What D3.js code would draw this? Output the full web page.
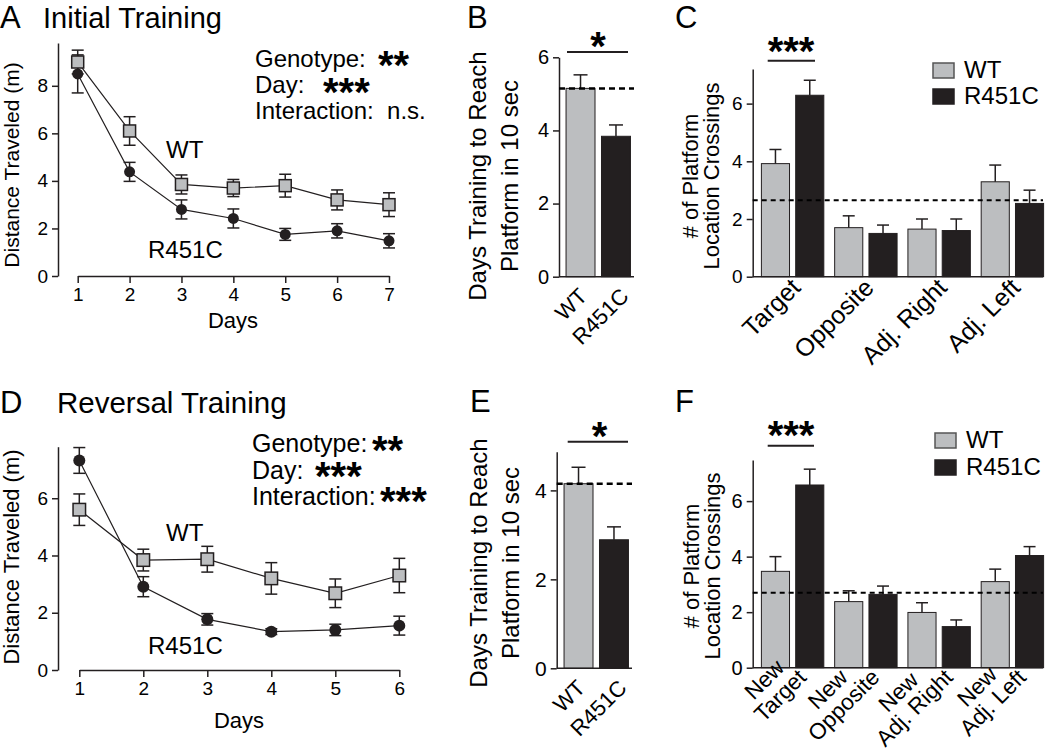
<!DOCTYPE html>
<html>
<head>
<meta charset="utf-8">
<script src="https://cdn.jsdelivr.net/npm/d3@7"></script>
<style>
  body { margin: 0; background: #fff; }
  svg { font-family: "Liberation Sans", Arial, sans-serif; }
  text { white-space: pre; }
</style>
</head>
<body>
<svg id="fig" width="1050" height="750"></svg>
<script>
// --- data: initial training (A) ---
const daysA = [1, 2, 3, 4, 5, 6, 7];
const wtA = [9.0, 6.1, 3.85, 3.7, 3.8, 3.2, 3.0];
const wtAErr = [0.5, 0.6, 0.4, 0.36, 0.48, 0.42, 0.5];
const mutA = [8.5, 4.38, 2.8, 2.42, 1.75, 1.9, 1.48];
const mutAErr = [0.8, 0.4, 0.4, 0.4, 0.25, 0.3, 0.3];
const yTicksA = [0, 2, 4, 6, 8];

// --- data: reversal training (D) ---
const daysD = [1, 2, 3, 4, 5, 6];
const wtD = [5.6, 3.84, 3.87, 3.2, 2.68, 3.3];
const wtDErr = [0.55, 0.38, 0.45, 0.55, 0.5, 0.6];
const mutD = [7.32, 2.91, 1.77, 1.34, 1.4, 1.55];
const mutDErr = [0.45, 0.35, 0.2, 0.1, 0.2, 0.33];
const yTicksD = [0, 2, 4, 6];

// --- data: days to criterion (B, E) ---
const genotypes = ["WT", "R451C"];
const trainB = [5.15, 3.84];
const trainBErr = [0.37, 0.31];
const chanceB = 5.15;
const yTicksB = [0, 2, 4, 6];
const trainE = [4.15, 2.89];
const trainEErr = [0.37, 0.29];
const chanceE = 4.15;
const yTicksE = [0, 2, 4];

// --- data: probe trial crossings (C, F) ---
const quadC = ["Target", "Opposite", "Adj. Right", "Adj. Left"];
const wtC = [3.92, 1.70, 1.65, 3.29];
const wtCErr = [0.49, 0.41, 0.35, 0.58];
const mutC = [6.29, 1.50, 1.60, 2.54];
const mutCErr = [0.52, 0.29, 0.40, 0.46];
const chanceC = 2.65;
const quadF = ["New Target", "New Opposite", "New Adj. Right", "New Adj. Left"];
const wtF = [3.47, 2.38, 1.99, 3.10];
const wtFErr = [0.53, 0.39, 0.35, 0.45];
const mutF = [6.58, 2.64, 1.48, 4.04];
const mutFErr = [0.57, 0.30, 0.24, 0.32];
const chanceF = 2.70;
const yTicksCF = [0, 2, 4, 6];

const INK = "#231f20";
const GRAY = "#bcbec0";
const svg = d3.select("#fig");

// 軸のスタイルを揃える
function styleAxis(ax, fs) {
    ax.attr("font-family", null).attr("font-size", fs);
    ax.select(".domain").attr("stroke", INK).attr("stroke-width", 1.5);
    ax.selectAll(".tick line").attr("stroke", INK).attr("stroke-width", 1.5);
    ax.selectAll(".tick text").attr("fill", "#000");
}

function drawYAxis(x0, y, ticks, fs) {
    const ax = svg.append("g")
        .attr("transform", `translate(${x0},0)`)
        .call(d3.axisLeft(y).tickValues(ticks).tickFormat(d3.format("d"))
            .tickSize(6).tickSizeOuter(0).tickPadding(4));
    styleAxis(ax, fs);
}

function label(x, y, txt, fs, anchor = "start") {
    return svg.append("text").attr("x", x).attr("y", y)
        .attr("font-size", fs).attr("text-anchor", anchor).text(txt);
}

function rotLabel(x, y, lines, fs, gap) {
    const t = svg.append("text")
        .attr("transform", `translate(${x},${y}) rotate(-90)`)
        .attr("font-size", fs).attr("text-anchor", "middle");
    lines.forEach((s, i) => t.append("tspan").attr("x", 0).attr("y", i * gap).text(s));
}

// 星印（中心 y を指定）
function stars(x, cy, n, fs = 40, anchor = "start") {
    svg.append("text").attr("x", x).attr("y", cy + 0.44 * fs)
        .attr("font-size", fs).attr("font-weight", "bold")
        .attr("text-anchor", anchor).text("*".repeat(n));
}

/**
 * 折れ線パネル（A, D）
 */
function drawLinePanel(p) {
    const { days, wt, wtErr, mut, mutErr, x, y, yTicks, axisX, axisY, fs, r, sq } = p;
    drawYAxis(axisX, y, yTicks, fs);
    const xa = svg.append("g")
        .attr("transform", `translate(0,${axisY})`)
        .call(d3.axisBottom(x).tickValues(days).tickFormat(d3.format("d"))
            .tickSize(7).tickSizeOuter(0).tickPadding(5));
    styleAxis(xa, fs);

    const series = [
        { v: wt, e: wtErr },
        { v: mut, e: mutErr },
    ];
    const line = d3.line().x((d, i) => x(days[i])).y((d) => y(d));
    series.forEach((s) => {
        svg.append("path").attr("d", line(s.v))
            .attr("fill", "none").attr("stroke", INK).attr("stroke-width", 1.2);
    });
    series.forEach((s) => {
        const eg = svg.append("g").attr("stroke", INK).attr("stroke-width", 1.5);
        s.v.forEach((v, i) => {
            const cx = x(days[i]);
            eg.append("line").attr("x1", cx).attr("x2", cx)
                .attr("y1", y(v - s.e[i])).attr("y2", y(v + s.e[i]));
            [v - s.e[i], v + s.e[i]].forEach((w) =>
                eg.append("line").attr("x1", cx - 6).attr("x2", cx + 6)
                    .attr("y1", y(w)).attr("y2", y(w)));
        });
    });
    // 丸を先に、四角を後に
    svg.append("g").selectAll("circle").data(mut).join("circle")
        .attr("cx", (d, i) => x(days[i])).attr("cy", (d) => y(d))
        .attr("r", r).attr("fill", INK);
    svg.append("g").selectAll("rect").data(wt).join("rect")
        .attr("x", (d, i) => x(days[i]) - sq / 2).attr("y", (d) => y(d) - sq / 2)
        .attr("width", sq).attr("height", sq)
        .attr("fill", GRAY).attr("stroke", INK).attr("stroke-width", 1.5);
}

/**
 * 訓練日数の棒グラフ（B, E）
 */
function drawTrainPanel(p) {
    const { vals, errs, chance, y, yTicks, axisX, x, fs } = p;
    drawYAxis(axisX, y, yTicks, fs);
    const y0 = y(0);
    svg.selectAll(null).data(vals).join("rect")
        .attr("x", (d, i) => x(genotypes[i])).attr("y", (d) => y(d))
        .attr("width", x.bandwidth()).attr("height", (d) => y0 - y(d))
        .attr("fill", (d, i) => (i === 0 ? GRAY : INK))
        .attr("stroke", INK).attr("stroke-width", 1);
    const eg = svg.append("g").attr("stroke", INK).attr("stroke-width", 1.5);
    vals.forEach((v, i) => {
        const cx = x(genotypes[i]) + x.bandwidth() / 2;
        eg.append("line").attr("x1", cx).attr("x2", cx).attr("y1", y(v)).attr("y2", y(v + errs[i]));
        eg.append("line").attr("x1", cx - 7).attr("x2", cx + 7)
            .attr("y1", y(v + errs[i])).attr("y2", y(v + errs[i]));
    });
    const xEnd = x.range()[1];
    svg.append("line").attr("x1", axisX).attr("x2", xEnd).attr("y1", y0).attr("y2", y0)
        .attr("stroke", INK).attr("stroke-width", 1.5);
    svg.append("line").attr("x1", axisX).attr("x2", xEnd)
        .attr("y1", y(chance)).attr("y2", y(chance))
        .attr("stroke", "#000").attr("stroke-width", 2.5).attr("stroke-dasharray", "6,4");
    genotypes.forEach((gname, i) => {
        const cx = x(gname) + x.bandwidth() / 2;
        const dx = i === 0 ? -3 : 3;
        svg.append("text")
            .attr("transform", `translate(${cx + dx},${y0 + 10}) rotate(-45)`)
            .attr("font-size", p.xfs).attr("text-anchor", "end").attr("dy", "0.7em")
            .text(gname);
    });
}

/**
 * プラットフォーム通過回数（C, F）
 */
function drawProbePanel(p) {
    const { cats, wt, wtErr, mut, mutErr, chance, y, axisX, xEnd, fs, xfs } = p;
    drawYAxis(axisX, y, yTicksCF, fs);
    const y0 = y(0);
    const outer = d3.scaleBand().domain(cats).range([757, 1048]).paddingInner(0.148).paddingOuter(0.06);
    const inner = d3.scaleBand().domain(genotypes).range([0, outer.bandwidth()]).paddingInner(0.18);
    const rows = cats.map((c, i) => [
        { c, g: "WT", v: wt[i], e: wtErr[i] },
        { c, g: "R451C", v: mut[i], e: mutErr[i] },
    ]).flat();
    svg.append("g").selectAll("rect").data(rows).join("rect")
        .attr("x", (d) => outer(d.c) + inner(d.g)).attr("y", (d) => y(d.v))
        .attr("width", inner.bandwidth()).attr("height", (d) => y0 - y(d.v))
        .attr("fill", (d) => (d.g === "WT" ? GRAY : INK))
        .attr("stroke", INK).attr("stroke-width", 1);
    const eg = svg.append("g").attr("stroke", INK).attr("stroke-width", 1.5);
    rows.forEach((d) => {
        const cx = outer(d.c) + inner(d.g) + inner.bandwidth() / 2;
        eg.append("line").attr("x1", cx).attr("x2", cx).attr("y1", y(d.v)).attr("y2", y(d.v + d.e));
        eg.append("line").attr("x1", cx - 6).attr("x2", cx + 6)
            .attr("y1", y(d.v + d.e)).attr("y2", y(d.v + d.e));
    });
    svg.append("line").attr("x1", axisX).attr("x2", xEnd).attr("y1", y0).attr("y2", y0)
        .attr("stroke", INK).attr("stroke-width", 1.5);
    svg.append("line").attr("x1", axisX).attr("x2", xEnd)
        .attr("y1", y(chance)).attr("y2", y(chance))
        .attr("stroke", "#000").attr("stroke-width", 2).attr("stroke-dasharray", "5,4");

    // 斜めのカテゴリラベル（複数行は中央揃え）
    cats.forEach((c) => {
        const cx = outer(c) + outer.bandwidth() / 2;
        const g = svg.append("g")
            .attr("transform", `translate(${cx + p.lab[0]},${y0 + p.lab[1]}) rotate(-45)`);
        const lines = p.twoLine ? [c.slice(0, 3), c.slice(4)] : [c];
        const t = g.append("text").attr("font-size", xfs).attr("text-anchor", "middle");
        const sp = lines.map((s, i) => t.append("tspan").attr("y", i * xfs).attr("dy", "0.7em").text(s));
        const w = d3.max(sp, (s) => s.node().getComputedTextLength());
        sp.forEach((s) => s.attr("x", -w / 2));
    });

    // 凡例
    const lg = p.legend;
    genotypes.forEach((gname, i) => {
        svg.append("rect").attr("x", lg.x).attr("y", lg.y[i]).attr("width", 21).attr("height", 15)
            .attr("fill", i === 0 ? GRAY : INK).attr("stroke", i === 0 ? "#555" : INK).attr("stroke-width", 1.5);
        label(lg.x + 31, lg.y[i] + 15, gname, 24);
    });
}

// ---------- A ----------
label(0, 27.5, "A", 31);
label(43, 27.5, "Initial Training", 29);
drawLinePanel({
    days: daysA, wt: wtA, wtErr: wtAErr, mut: mutA, mutErr: mutAErr,
    x: d3.scaleLinear().domain([1, 7]).range([77.7, 389]),
    y: d3.scaleLinear().domain([0, 9.8]).range([276, 43]),
    yTicks: yTicksA, axisX: 58, axisY: 276, fs: 19, r: 5.5, sq: 12,
});
rotLabel(19, 165, ["Distance Traveled (m)"], 21, 0);
label(233, 328, "Days", 22, "middle");
label(166, 158, "WT", 24);
label(148, 258, "R451C", 24);
label(255, 67, "Genotype:", 24);
stars(378, 61, 2);
label(255, 93, "Day:", 24);
stars(323, 88, 3);
label(255, 119, "Interaction:  n.s.", 24);

// ---------- D ----------
label(0, 413, "D", 31);
label(57, 413, "Reversal Training", 29.5);
drawLinePanel({
    days: daysD, wt: wtD, wtErr: wtDErr, mut: mutD, mutErr: mutDErr,
    x: d3.scaleLinear().domain([1, 6]).range([79.3, 399.3]),
    y: d3.scaleLinear().domain([0, 7.8]).range([670, 446.7]),
    yTicks: yTicksD, axisX: 58, axisY: 670, fs: 19, r: 6, sq: 12.5,
});
rotLabel(19, 557, ["Distance Traveled (m)"], 22, 0);
label(239, 728, "Days", 22, "middle");
label(166, 541, "WT", 24);
label(148, 654, "R451C", 24);
label(252, 452, "Genotype:", 25);
stars(372, 446, 2);
label(252, 479, "Day:", 25);
stars(315, 472.5, 3);
label(252, 505, "Interaction:", 25);
stars(380, 497, 3);

// ---------- B ----------
label(467, 27.5, "B", 31);
drawTrainPanel({
    vals: trainB, errs: trainBErr, chance: chanceB,
    y: d3.scaleLinear().domain([0, 6]).range([276.7, 57.3]),
    yTicks: yTicksB, axisX: 559, fs: 20, xfs: 22,
    x: d3.scaleBand().domain(genotypes).range([562.5, 634]).paddingInner(0.183).paddingOuter(0.1),
});
rotLabel(486, 176, ["Days Training to Reach", "Platform in 10 sec"], 24, 32);
svg.append("line").attr("x1", 567).attr("x2", 628).attr("y1", 52).attr("y2", 52)
    .attr("stroke", INK).attr("stroke-width", 2);
stars(598, 42, 1, 40, "middle");

// ---------- E ----------
label(470, 412, "E", 31);
drawTrainPanel({
    vals: trainE, errs: trainEErr, chance: chanceE,
    y: d3.scaleLinear().domain([0, 4.87]).range([668.3, 451.7]),
    yTicks: yTicksE, axisX: 556.7, fs: 21, xfs: 22,
    x: d3.scaleBand().domain(genotypes).range([560.5, 632]).paddingInner(0.183).paddingOuter(0.1),
});
rotLabel(487, 563, ["Days Training to Reach", "Platform in 10 sec"], 24, 32);
svg.append("line").attr("x1", 567.7).attr("x2", 628).attr("y1", 441.7).attr("y2", 441.7)
    .attr("stroke", INK).attr("stroke-width", 2);
stars(599.5, 432.5, 1, 40, "middle");

// ---------- C ----------
label(675, 27.5, "C", 31);
drawProbePanel({
    cats: quadC, wt: wtC, wtErr: wtCErr, mut: mutC, mutErr: mutCErr, chance: chanceC,
    y: d3.scaleLinear().domain([0, 7.2]).range([276.7, 69]),
    axisX: 752.7, xEnd: 1043, fs: 19, xfs: 25, lab: [-3, 0],
    legend: { x: 933, y: [63, 89] },
});
rotLabel(698, 176, ["# of Platform", "Location Crossings"], 22, 21);
svg.append("line").attr("x1", 767.7).attr("x2", 815).attr("y1", 60.7).attr("y2", 60.7)
    .attr("stroke", INK).attr("stroke-width", 2);
stars(791, 47.5, 3, 40, "middle");

// ---------- F ----------
label(675, 412, "F", 31);
drawProbePanel({
    cats: quadF, wt: wtF, wtErr: wtFErr, mut: mutF, mutErr: mutFErr, chance: chanceF,
    y: d3.scaleLinear().domain([0, 7.48]).range([667.7, 460]),
    axisX: 752.7, xEnd: 1043, fs: 20, xfs: 22.5, lab: [-12, -16], twoLine: true,
    legend: { x: 935, y: [433, 460] },
});
rotLabel(699, 566, ["# of Platform", "Location Crossings"], 22, 21);
svg.append("line").attr("x1", 767.7).attr("x2", 814).attr("y1", 445.7).attr("y2", 445.7)
    .attr("stroke", INK).attr("stroke-width", 2);
stars(791, 431.5, 3, 40, "middle");
</script>
</body>
</html>
